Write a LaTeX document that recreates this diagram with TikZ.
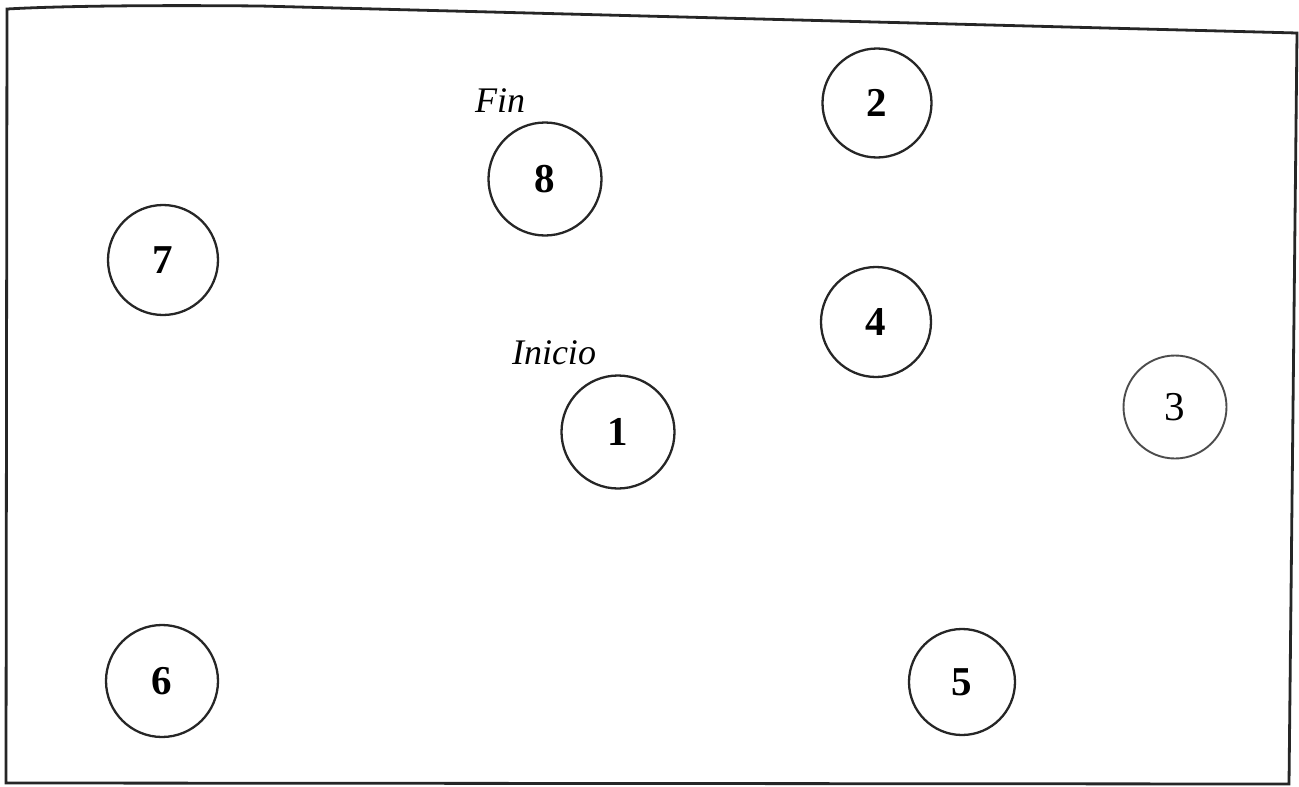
\documentclass[tikz,border=0pt]{standalone}
\usepackage{fontspec}
\setmainfont{Liberation Serif}
\begin{document}
\begin{tikzpicture}[x=1pt,y=-1pt,
  state/.style={circle,draw=black!85,line width=2.3pt,minimum size=#1,inner sep=0pt,
    font=\fontsize{41}{41}\selectfont\bfseries},
  state/.default=110pt,
  lbl/.style={anchor=base,font=\fontsize{36}{36}\selectfont\itshape}]
\useasboundingbox (0,0) rectangle (1299,787);
\draw[line width=2.8pt,black!85,line join=miter] (6,783) -- (7,9) .. controls (60,6) and (150,5) .. (260,6) -- (1297,33) -- (1289,784) -- cycle;
\node[state=109pt] (n2) at (877,103) {2};
\node[state=113pt] (n8) at (545,179) {8};
\node[state=110pt] (n7) at (163,260) {7};
\node[state=110pt] (n4) at (876,322) {4};
\node[state=113pt] (n1) at (618,432) {1};
\node[state=103pt,draw=black!70,line width=1.9pt,font=\fontsize{41}{41}\selectfont] (n3) at (1175,407) {3};
\node[state=112pt] (n6) at (162,681) {6};
\node[state=106pt] (n5) at (962,682) {5};
\node[lbl] (fin) at (500,112) {Fin};
\node[lbl] (ini) at (554,364) {Inicio};
\end{tikzpicture}
\end{document}
